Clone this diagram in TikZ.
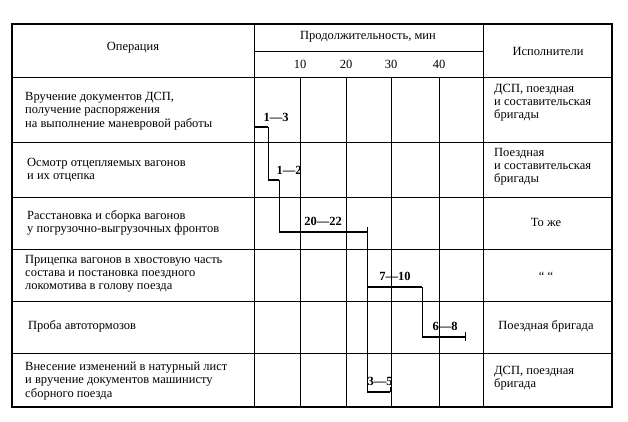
\documentclass[tikz,border=0pt]{standalone}
\usepackage{fontspec}
\setmainfont{Liberation Serif}
\begin{document}
\begin{tikzpicture}[x=1pt,y=-1pt,
  rule/.style={line width=1pt},
  grid/.style={line width=0.9pt},
  bar/.style={line width=2.4pt},
  conn/.style={line width=1pt},
  txt/.style={font=\fontsize{12.5}{13.2}\selectfont, align=left, inner sep=0pt},
  lab/.style={font=\fontsize{12.5}{13}\selectfont\bfseries, inner sep=0pt},
  hdr/.style={font=\fontsize{12.5}{13}\selectfont, inner sep=0pt}]
\useasboundingbox (0,0) rectangle (628,422);
% frame
\draw[line width=1.3pt] (12,24) rectangle (612,407);
\draw[rule] (254,24) -- (254,407);
\draw[rule] (483,24) -- (483,407);
\draw[rule] (254,52) -- (483,52);
\foreach \y in {78,143,197,249,301,353} \draw[rule] (12,\y) -- (612,\y);
% grid
\foreach \x/\t in {300/10,346/20,391/30,439/40}{
  \draw[grid] (\x,78) -- (\x,407);
  \node[hdr] (n\t) at (\x,64) {\t};
}
% header
\node[hdr] (h1) at (133,48) {Операция};
\node[hdr] (h2) at (368,37) {Продолжительность, мин};
\node[hdr] (h3) at (548,51) {Исполнители};
% operations
\node[txt,anchor=west] (o1) at (25,111) {Вручение документов ДСП,\\получение распоряжения\\на выполнение маневровой работы};
\node[txt,anchor=west] (o2) at (27,170) {Осмотр отцепляемых вагонов\\и их отцепка};
\node[txt,anchor=west] (o3) at (27,223) {Расстановка и сборка вагонов\\у погрузочно-выгрузочных фронтов};
\node[txt,anchor=west] (o4) at (25,274) {Прицепка вагонов в хвостовую часть\\состава и постановка поездного\\локомотива в голову поезда};
\node[txt,anchor=west] (o5) at (28,326) {Проба автотормозов};
\node[txt,anchor=west] (o6) at (25,381) {Внесение изменений в натурный лист\\и вручение документов машинисту\\сборного поезда};
% performers
\node[txt,anchor=north west] (p1) at (494,84) {ДСП, поездная\\и составительская\\бригады};
\node[txt,anchor=north west] (p2) at (494,148) {Поездная\\и составительская\\бригады};
\node[hdr] (p3) at (546,222) {То же};
\node[hdr] (p4) at (546,276) {“ “};
\node[hdr] (p5) at (546,326) {Поездная бригада};
\node[txt,anchor=west] (p6) at (494,378) {ДСП, поездная\\бригада};
% bars
\coordinate (b1s) at (254,127); \coordinate (b1e) at (268,127);
\coordinate (b2s) at (268,180); \coordinate (b2e) at (279,180);
\coordinate (b3s) at (279,232); \coordinate (b3e) at (367,232);
\coordinate (b4s) at (367,287); \coordinate (b4e) at (422,287);
\coordinate (b5s) at (422,337); \coordinate (b5e) at (465,337);
\coordinate (b6s) at (367,392); \coordinate (b6e) at (390,392);
\foreach \i in {1,...,6} \draw[bar] (b\i s) -- (b\i e);
\draw[conn] (b1e) -- (b2s);
\draw[conn] (b2e) -- (b3s);
\draw[conn] (b3e) -- (b4s);
\draw[conn] (b4s) -- (b6s);
\draw[conn] (b4e) -- (b5s);
\draw[conn] (b3e) -- ++(0,-5);
\draw[conn] (b5e) -- ++(0,-5) (b5e) -- ++(0,4);
\draw[conn] (b6e) -- ++(0,-5);
% labels
\node[lab] (l1) at (276,117) {1—3};
\node[lab] (l2) at (289,170) {1—2};
\node[lab] (l3) at (323,221) {20—22};
\node[lab] (l4) at (395,276) {7—10};
\node[lab] (l5) at (445,326) {6—8};
\node[lab] (l6) at (380,381) {3—5};
\end{tikzpicture}
\end{document}
